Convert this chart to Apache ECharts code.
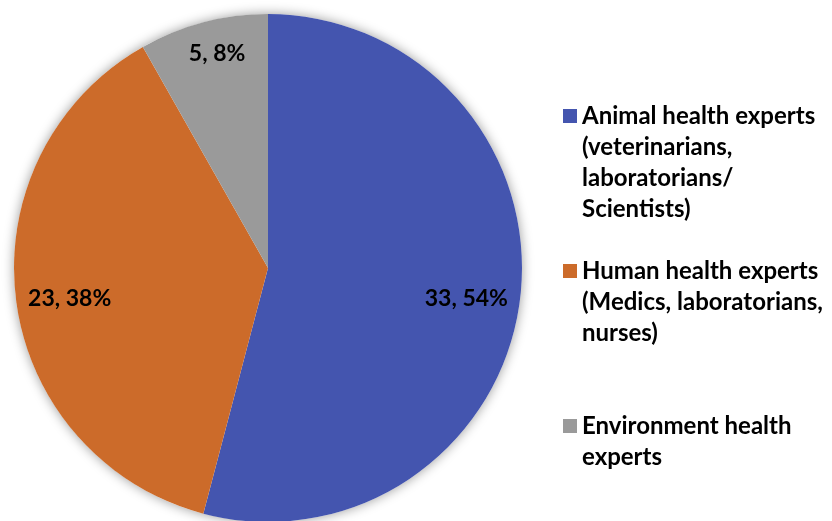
<!DOCTYPE html>
<html>
<head>
<meta charset="utf-8">
<script src="https://cdn.jsdelivr.net/npm/echarts@6/dist/echarts.min.js"></script>
<style>
html,body{margin:0;padding:0;background:#fff;}
#chart{width:832px;height:521px;}
</style>
</head>
<body>
<div id="chart"></div>
<script>
var categories = [
  'Animal health experts\n(veterinarians,\nlaboratorians/\nScientists)',
  'Human health experts\n(Medics, laboratorians,\nnurses)',
  'Environment health\nexperts'
];
var values = [33, 23, 5];
var colors = ['#4455AF', '#CC6B2A', '#9A9A9A'];

var FONT = 'Lato';
var FS = 23;
var LEG_FS = 24;
var LH = 31;

var chart = echarts.init(document.getElementById('chart'), null, {renderer: 'canvas'});

var pieData = categories.map(function (c, i) {
  return {name: c, value: values[i], itemStyle: {color: colors[i]}};
});
var lineCounts = categories.map(function (c) { return c.split('\n').length; });
var maxLines = Math.max.apply(null, lineCounts);
var boxH = maxLines * LH;

var iconPath = 'path://M0,8 L14,8 L14,22 L0,22 Z M0,0 L0.01,0 L0,0.01 Z M13.99,' + boxH + ' L14,' + boxH + ' L14,' + (boxH - 0.01) + ' Z';

var option = {
  animation: false,
  backgroundColor: '#fff',
  legend: {
    type: 'plain',
    orient: 'vertical',
    left: 563,
    top: 101,
    height: 500,
    padding: 0,
    itemWidth: 14,
    itemHeight: boxH,
    itemGap: LH,
    icon: iconPath,
    selectedMode: false,
    data: categories,
    formatter: function (name) {
      var n = name.split('\n').length;
      var pad = '';
      for (var k = n; k < maxLines; k++) { pad += '\n '; }
      return name + pad;
    },
    textStyle: {
      fontFamily: FONT,
      fontWeight: 'bold',
      fontSize: LEG_FS,
      lineHeight: LH,
      color: '#000'
    }
  },
  series: [
    {
      type: 'pie',
      z: 1,
      silent: true,
      center: [268, 268],
      radius: [0, 254],
      label: {show: false},
      labelLine: {show: false},
      itemStyle: {
        color: '#fff',
        shadowBlur: 12,
        shadowColor: 'rgba(0,0,0,0.4)',
        shadowOffsetX: 0,
        shadowOffsetY: 0
      },
      data: [{name: '__bg', value: 1}]
    },
    {
      type: 'pie',
      z: 2,
      center: [268, 268],
      radius: [0, 254],
      startAngle: 90,
      clockwise: true,
      percentPrecision: 0,
      label: {show: false},
      labelLine: {show: false},
      emphasis: {disabled: true},
      itemStyle: {borderWidth: 0},
      data: pieData
    },
    {
      type: 'pie',
      z: 3,
      silent: true,
      center: [268, 268],
      radius: [140, 254],
      startAngle: 90,
      clockwise: true,
      percentPrecision: 0,
      emphasis: {disabled: true},
      itemStyle: {color: 'rgba(0,0,0,0)', borderWidth: 0},
      label: {
        show: true,
        position: 'inside',
        formatter: '{c}, {d}%',
        fontFamily: FONT,
        fontWeight: 'bold',
        fontSize: FS,
        color: '#000'
      },
      labelLayout: function (p) {
        return p.dataIndex === 2 ? {dy: -21} : {dy: 5};
      },
      labelLine: {show: false},
      data: categories.map(function (c, i) { return {name: c, value: values[i]}; })
    }
  ]
};
chart.setOption(option);
</script>
</body>
</html>
